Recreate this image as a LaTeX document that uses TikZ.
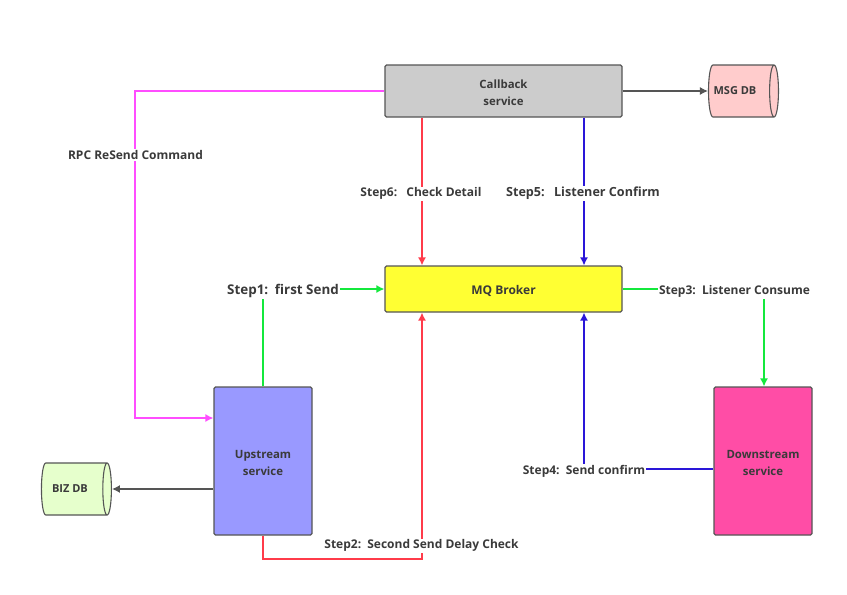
\documentclass[tikz,border=0pt]{standalone}
\usepackage{fontspec}
\setmainfont{Open Sans}
\usetikzlibrary{shapes.geometric,arrows.meta}
\definecolor{edgeg}{HTML}{555555}
\definecolor{txt}{HTML}{3A3A3A}
\definecolor{pkc}{HTML}{FF4DFF}
\definecolor{redc}{HTML}{FF3B4A}
\definecolor{bluc}{HTML}{2A16D8}
\definecolor{grnc}{HTML}{14E83C}
\definecolor{upf}{HTML}{9999FF}
\definecolor{dnf}{HTML}{FF4DA6}
\definecolor{msgf}{HTML}{FFCCCC}
\definecolor{bizf}{HTML}{E6FFCC}
\definecolor{mqf}{HTML}{FFFF33}
\definecolor{cbf}{HTML}{CCCCCC}
\newcommand\lowertext[1]{\raisebox{-2.5pt}[\height][\depth]{\begin{tabular}{@{}c@{}}#1\end{tabular}}}
\tikzset{
  svc/.style={draw=edgeg,line width=1.2pt,rounded corners=1.5pt,inner sep=0pt,align=center,font=\bfseries\fontsize{11.4}{16.5}\selectfont,text=txt},
  db/.style={draw=edgeg,line width=1.1pt,cylinder,shape aspect=1.1,cylinder uses custom fill,inner sep=0pt,font=\bfseries\fontsize{11}{13}\selectfont,text=txt,minimum width=52pt,minimum height=70pt},
  lbl/.style={fill=white,inner sep=1pt,font=\bfseries\fontsize{12}{14}\selectfont,text=txt},
  lblb/.style={lbl,font=\bfseries\fontsize{12.6}{14}\selectfont},
  lblc/.style={lbl,font=\bfseries\fontsize{13.4}{14}\selectfont},
  conn/.style={line width=1.3pt,-{Latex[length=8pt,width=8pt]}},
}
\begin{document}
\begin{tikzpicture}[x=1pt,y=-1pt]
\useasboundingbox (0,0) rectangle (847,595);
\node[svc,fill=cbf,minimum width=237pt,minimum height=52pt] (cb) at (503.5,91) {\lowertext{Callback\\service}};
\node[svc,fill=mqf,minimum width=237pt,minimum height=46pt] (mq) at (503.5,289) {\lowertext{\fontsize{12}{14}\selectfont MQ Broker}};
\node[svc,fill=upf,minimum width=98pt,minimum height=148pt] (up) at (263,461) {\lowertext{Upstream\\service}};
\node[svc,fill=dnf,minimum width=98pt,minimum height=148pt] (down) at (763,461) {\lowertext{Downstream\\service}};
\node[db,cylinder body fill=msgf,cylinder end fill=msgf] (msg) at (741,91) {\hspace{-12pt}MSG DB};
\node[db,cylinder body fill=bizf,cylinder end fill=bizf] (biz) at (74,489) {\hspace{-8pt}BIZ DB};
\coordinate (pk) at (135,418);
\coordinate (rx) at (422,300);
\coordinate (bx) at (584,300);
\coordinate (gx) at (764,300);
\coordinate (r2) at (300,559);
\coordinate (b4) at (640,469);
% connectors
\draw[conn,color=edgeg] (cb.east) -- (msg.west);
\draw[conn,color=edgeg] (up.west |- biz.east) -- (biz.east);
\draw[conn,color=pkc] (cb.west) -- (cb.west -| pk) -- (pk) -- (up.west |- pk);
\draw[conn,color=redc] (cb.south -| rx) -- (mq.north -| rx);
\draw[conn,color=bluc] (cb.south -| bx) -- (mq.north -| bx);
\draw[conn,color=grnc] (up.north) -- (up.north |- mq.west) -- (mq.west);
\draw[conn,color=grnc] (mq.east) -- (mq.east -| gx) -- (down.north -| gx);
\draw[conn,color=redc] (up.south) -- (up.south |- r2) -- (r2 -| rx) -- (mq.south -| rx);
\draw[conn,color=bluc] (down.west |- b4) -- (b4 -| bx) -- (mq.south -| bx);
% labels
\node[lbl] (l0) at (135.5,155) {RPC ReSend Command};
\node[lbl] (l6) at (421,193.5) {Step6:\hspace{5pt} Check Detail};
\node[lblb] (l5) at (583,193.5) {Step5:\hspace{5pt} Listener Confirm};
\node[lblc] (l1) at (283,291) {Step1:\hspace{2pt} first Send};
\node[lbl] (l3) at (734.5,291.5) {Step3:\hspace{2pt} Listener Consume};
\node[lbl] (l4) at (584,471) {Step4:\hspace{2pt} Send confirm};
\node[lbl] (l2) at (421.5,545.5) {Step2:\hspace{2pt} Second Send Delay Check};
\end{tikzpicture}
\end{document}
